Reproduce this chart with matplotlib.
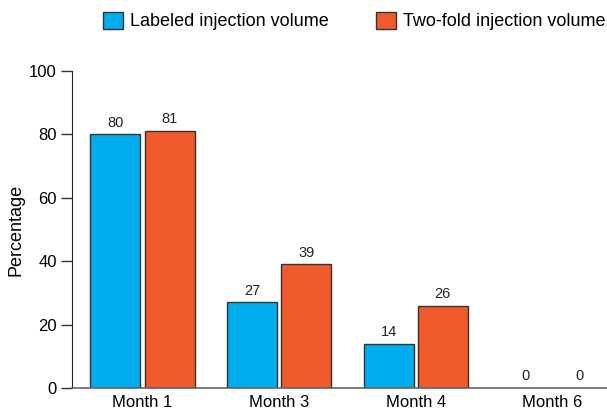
import matplotlib
matplotlib.use("Agg")
import matplotlib.pyplot as plt
import numpy as np
from matplotlib.patches import Patch

categories = ["Month 1", "Month 3", "Month 4", "Month 6"]
labeled = [80, 27, 14, 0]
twofold = [81, 39, 26, 0]
series_names = ["Labeled injection volume", "Two-fold injection volume"]
yticks = [0, 20, 40, 60, 80, 100]

plt.rcParams['font.family'] = ['Liberation Sans', 'DejaVu Sans']
blue = "#00AEEF"
orange = "#F15A2B"
edge = "#333333"

fig = plt.figure(figsize=(6.07, 4.17), dpi=100)
ax = fig.add_axes([0.1186, 0.0695, 0.8814, 0.7602])

x = np.arange(len(categories))
w = 0.366
off = 0.198
b1 = ax.bar(x - off, labeled, w, color=blue, edgecolor=edge, linewidth=1.0)
b2 = ax.bar(x + off, twofold, w, color=orange, edgecolor=edge, linewidth=1.0)
for bars, vals in ((b1, labeled), (b2, twofold)):
    for r, v in zip(bars, vals):
        ax.text(r.get_x() + r.get_width() / 2, v + 1.5, str(v), ha='center', va='bottom',
                fontsize=10.5, color="#222222")

ax.set_xlim(-0.516, 3.40)
ax.set_ylim(0, 100)
ax.set_yticks(yticks)
ax.set_xticks(x)
ax.set_xticklabels(categories, fontsize=12)
ax.tick_params(axis='y', labelsize=12, length=8, width=1, direction='out', color="#333333", pad=3)
ax.tick_params(axis='x', length=0, pad=5)
for s in ("top", "right"):
    ax.spines[s].set_visible(False)
ax.spines["left"].set_color("#222222")
ax.spines["bottom"].set_color("#666666")
ax.spines["bottom"].set_linewidth(1.2)
ax.set_ylabel("Percentage", fontsize=13, labelpad=3)

handles = [Patch(facecolor=blue, edgecolor=edge, label=series_names[0]),
           Patch(facecolor=orange, edgecolor=edge, label=series_names[1])]
fig.legend(handles=handles, loc='center', bbox_to_anchor=(0.584, 1 - 21 / 417), ncol=2,
           frameon=False, fontsize=13, handlelength=1.1, handleheight=1.1,
           columnspacing=2.6, handletextpad=0.4)

fig.savefig("out.png", dpi=100)
